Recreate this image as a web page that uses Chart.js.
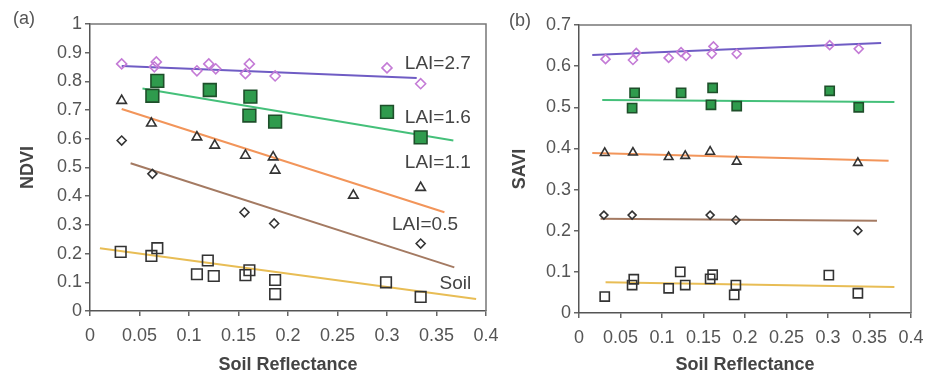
<!DOCTYPE html>
<html>
<head>
<meta charset="utf-8">
<script src="https://cdn.jsdelivr.net/npm/chart.js@4.4.1/dist/chart.umd.min.js"></script>
<style>
  html, body { margin: 0; padding: 0; background: #fff; }
  body { width: 940px; height: 376px; position: relative; overflow: hidden; }
  .panel { position: absolute; top: 0; height: 376px; }
  #boxA { left: 0; width: 508px; }
  #boxB { left: 490px; width: 450px; }
  .tag { position: absolute; font: 18px "Liberation Sans", Arial, sans-serif; color: #555; }
</style>
</head>
<body>
<div class="panel" id="boxA"><canvas id="chartA"></canvas></div>
<div class="panel" id="boxB"><canvas id="chartB"></canvas></div>
<span class="tag" style="left:13px;top:8px;">(a)</span>
<span class="tag" style="left:509px;top:10px;">(b)</span>
<script>
// ---- data ----
const ndviTicks = ['0', '0.1', '0.2', '0.3', '0.4', '0.5', '0.6', '0.7', '0.8', '0.9', '1'];
const saviTicks = ['0', '0.1', '0.2', '0.3', '0.4', '0.5', '0.6', '0.7'];
const reflTicks = ['0', '0.05', '0.1', '0.15', '0.2', '0.25', '0.3', '0.35', '0.4'];

// panel (a) NDVI
const lai27A_x = [0.032, 0.065, 0.067, 0.108, 0.120, 0.127, 0.157, 0.161, 0.187, 0.300, 0.334];
const lai27A_y = [0.861, 0.851, 0.868, 0.837, 0.861, 0.844, 0.827, 0.861, 0.819, 0.847, 0.792];
const lai16A_x = [0.063, 0.068, 0.121, 0.161, 0.162, 0.187, 0.300, 0.334];
const lai16A_y = [0.750, 0.802, 0.770, 0.681, 0.747, 0.660, 0.694, 0.605];
const lai11A_x = [0.032, 0.062, 0.108, 0.126, 0.157, 0.185, 0.187, 0.266, 0.334];
const lai11A_y = [0.733, 0.654, 0.606, 0.577, 0.542, 0.536, 0.490, 0.403, 0.430];
const lai05A_x = [0.032, 0.063, 0.156, 0.186, 0.334];
const lai05A_y = [0.594, 0.478, 0.344, 0.305, 0.235];
const soilA_x = [0.031, 0.062, 0.068, 0.108, 0.119, 0.125, 0.157, 0.161, 0.187, 0.187, 0.299, 0.334];
const soilA_y = [0.206, 0.192, 0.219, 0.128, 0.176, 0.122, 0.125, 0.142, 0.108, 0.059, 0.100, 0.049];
// fitted lines (start, end)
const fitA_x = { lai27: [0.032, 0.330], lai16: [0.053, 0.367], lai11: [0.032, 0.358], lai05: [0.041, 0.368], soil: [0.010, 0.390] };
const fitA_y = { lai27: [0.854, 0.812], lai16: [0.775, 0.594], lai11: [0.704, 0.344], lai05: [0.515, 0.152], soil: [0.219, 0.042] };
const labelTextA = ['LAI=2.7', 'LAI=1.6', 'LAI=1.1', 'LAI=0.5', 'Soil'];
const labelAtA_x = [0.318, 0.318, 0.318, 0.305, 0.353];
const labelAtA_y = [0.861, 0.674, 0.517, 0.299, 0.094];

// panel (b) SAVI
const lai27B_x = [0.032, 0.065, 0.069, 0.108, 0.123, 0.129, 0.160, 0.162, 0.190, 0.302, 0.337];
const lai27B_y = [0.617, 0.615, 0.632, 0.620, 0.634, 0.625, 0.630, 0.648, 0.630, 0.651, 0.642];
const lai16B_x = [0.064, 0.067, 0.123, 0.159, 0.161, 0.190, 0.302, 0.337];
const lai16B_y = [0.498, 0.535, 0.535, 0.506, 0.547, 0.503, 0.540, 0.500];
const lai11B_x = [0.031, 0.065, 0.108, 0.128, 0.158, 0.190, 0.336];
const lai11B_y = [0.389, 0.390, 0.379, 0.382, 0.392, 0.368, 0.365];
const lai05B_x = [0.030, 0.064, 0.158, 0.189, 0.336];
const lai05B_y = [0.238, 0.238, 0.238, 0.226, 0.200];
const soilB_x = [0.031, 0.064, 0.066, 0.108, 0.122, 0.128, 0.158, 0.161, 0.187, 0.189, 0.301, 0.336];
const soilB_y = [0.040, 0.068, 0.082, 0.060, 0.100, 0.068, 0.083, 0.093, 0.044, 0.068, 0.092, 0.048];
const fitB_x = { lai27: [0.016, 0.364], lai16: [0.028, 0.380], lai11: [0.016, 0.373], lai05: [0.026, 0.359], soil: [0.032, 0.380] };
const fitB_y = { lai27: [0.627, 0.656], lai16: [0.518, 0.513], lai11: [0.389, 0.370], lai05: [0.229, 0.224], soil: [0.075, 0.063] };

// ---- styling ----
const FONT = '"Liberation Sans", Arial, sans-serif';
const lineColors = { lai27: '#6f5cc4', lai16: '#45c07a', lai11: '#f2955a', lai05: '#a47a62', soil: '#e8bd55' };

function pts(xs, ys) {
    return xs.map((x, i) => ({ x: x, y: ys[i] }));
}

function fitLine(key, fx, fy) {
    return {
        type: 'scatter',
        data: pts(fx[key], fy[key]),
        showLine: true,
        borderColor: lineColors[key],
        borderWidth: 2,
        pointRadius: 0,
        order: 2
    };
}

function markers(xs, ys, style, radius, fill, edge) {
    return {
        type: 'scatter',
        data: pts(xs, ys),
        pointStyle: style,
        pointRadius: radius,
        pointBackgroundColor: fill,
        pointBorderColor: edge,
        pointBorderWidth: 1.6,
        order: 1
    };
}

// top and right edges of the plot box
const framePlugin = {
    id: 'frame',
    afterDraw(chart) {
        const a = chart.chartArea, ctx = chart.ctx;
        ctx.save();
        ctx.strokeStyle = '#777';
        ctx.lineWidth = 1.5;
        ctx.beginPath();
        ctx.moveTo(a.left, a.top);
        ctx.lineTo(a.right, a.top);
        ctx.lineTo(a.right, a.bottom);
        ctx.stroke();
        ctx.restore();
    }
};

// in-plot series labels for panel (a)
const lineLabelPlugin = {
    id: 'lineLabels',
    afterDatasetsDraw(chart, args, opts) {
        if (!opts.text) return;
        const ctx = chart.ctx, sx = chart.scales.x, sy = chart.scales.y;
        ctx.save();
        ctx.font = '19px ' + FONT;
        ctx.fillStyle = '#444';
        ctx.textAlign = 'left';
        ctx.textBaseline = 'middle';
        opts.text.forEach((t, i) => {
            ctx.fillText(t, sx.getPixelForValue(opts.xs[i]), sy.getPixelForValue(opts.ys[i]));
        });
        ctx.restore();
    }
};

function axisOpts(cfg) {
    return {
        x: {
            type: 'linear',
            min: 0, max: 0.4,
            afterFit: s => { s.height = cfg.xHeight; },
            ticks: {
                stepSize: 0.05,
                color: '#555',
                font: { family: FONT, size: 18 },
                padding: 9,
                maxRotation: 0,
                callback: (v, i) => reflTicks[i]
            },
            grid: { drawOnChartArea: false, drawTicks: true, tickLength: 5, color: '#666', lineWidth: 1.5 },
            border: { display: true, color: '#555', width: 1.5 },
            title: {
                display: true,
                text: 'Soil Reflectance',
                color: '#444',
                font: { family: FONT, size: 18, weight: 'bold' },
                padding: { top: 4, bottom: 0 }
            }
        },
        y: {
            type: 'linear',
            min: 0, max: cfg.yMax,
            afterFit: s => { s.width = cfg.yWidth; },
            ticks: {
                stepSize: 0.1,
                color: '#555',
                font: { family: FONT, size: 18 },
                padding: 3,
                callback: (v, i) => cfg.yLabels[i]
            },
            grid: { drawOnChartArea: false, drawTicks: true, tickLength: 5, color: '#666', lineWidth: 1.5 },
            border: { display: true, color: '#555', width: 1.5 },
            title: {
                display: true,
                text: cfg.yTitle,
                color: '#444',
                font: { family: FONT, size: 18, weight: 'bold' },
                padding: { top: cfg.yTitlePad, bottom: 0 }
            }
        }
    };
}

function baseOptions(cfg) {
    return {
        responsive: true,
        maintainAspectRatio: false,
        animation: false,
        layout: { padding: cfg.padding },
        plugins: {
            legend: { display: false },
            tooltip: { enabled: false },
            lineLabels: cfg.labels || {}
        },
        scales: axisOpts(cfg)
    };
}

const OPEN = 'rgba(0,0,0,0)';

new Chart(document.getElementById('chartA'), {
    type: 'scatter',
    data: {
        datasets: [
            fitLine('lai27', fitA_x, fitA_y),
            fitLine('lai16', fitA_x, fitA_y),
            fitLine('lai11', fitA_x, fitA_y),
            fitLine('lai05', fitA_x, fitA_y),
            fitLine('soil', fitA_x, fitA_y),
            markers(lai27A_x, lai27A_y, 'rectRot', 5, OPEN, '#c47bd6'),
            markers(lai16A_x, lai16A_y, 'rect', 9, '#2f9b4d', '#1e4f2a'),
            markers(lai11A_x, lai11A_y, 'triangle', 5.5, OPEN, '#333'),
            markers(lai05A_x, lai05A_y, 'rectRot', 4.5, OPEN, '#333'),
            markers(soilA_x, soilA_y, 'rect', 7.5, OPEN, '#333')
        ]
    },
    options: baseOptions({
        padding: { left: 0, top: 24, right: 22, bottom: 0 },
        xHeight: 65, yWidth: 90, yMax: 1, yLabels: ndviTicks, yTitle: 'NDVI', yTitlePad: 17,
        labels: { text: labelTextA, xs: labelAtA_x, ys: labelAtA_y }
    }),
    plugins: [framePlugin, lineLabelPlugin]
});

new Chart(document.getElementById('chartB'), {
    type: 'scatter',
    data: {
        datasets: [
            fitLine('lai27', fitB_x, fitB_y),
            fitLine('lai16', fitB_x, fitB_y),
            fitLine('lai11', fitB_x, fitB_y),
            fitLine('lai05', fitB_x, fitB_y),
            fitLine('soil', fitB_x, fitB_y),
            markers(lai27B_x, lai27B_y, 'rectRot', 4.5, OPEN, '#c47bd6'),
            markers(lai16B_x, lai16B_y, 'rect', 6.5, '#2f9b4d', '#1e4f2a'),
            markers(lai11B_x, lai11B_y, 'triangle', 5, OPEN, '#333'),
            markers(lai05B_x, lai05B_y, 'rectRot', 4, OPEN, '#333'),
            markers(soilB_x, soilB_y, 'rect', 6.5, OPEN, '#333')
        ]
    },
    options: baseOptions({
        padding: { left: 0, top: 25, right: 29, bottom: 0 },
        xHeight: 63, yWidth: 89, yMax: 0.7, yLabels: saviTicks, yTitle: 'SAVI', yTitlePad: 19
    }),
    plugins: [framePlugin]
});
</script>
</body>
</html>
